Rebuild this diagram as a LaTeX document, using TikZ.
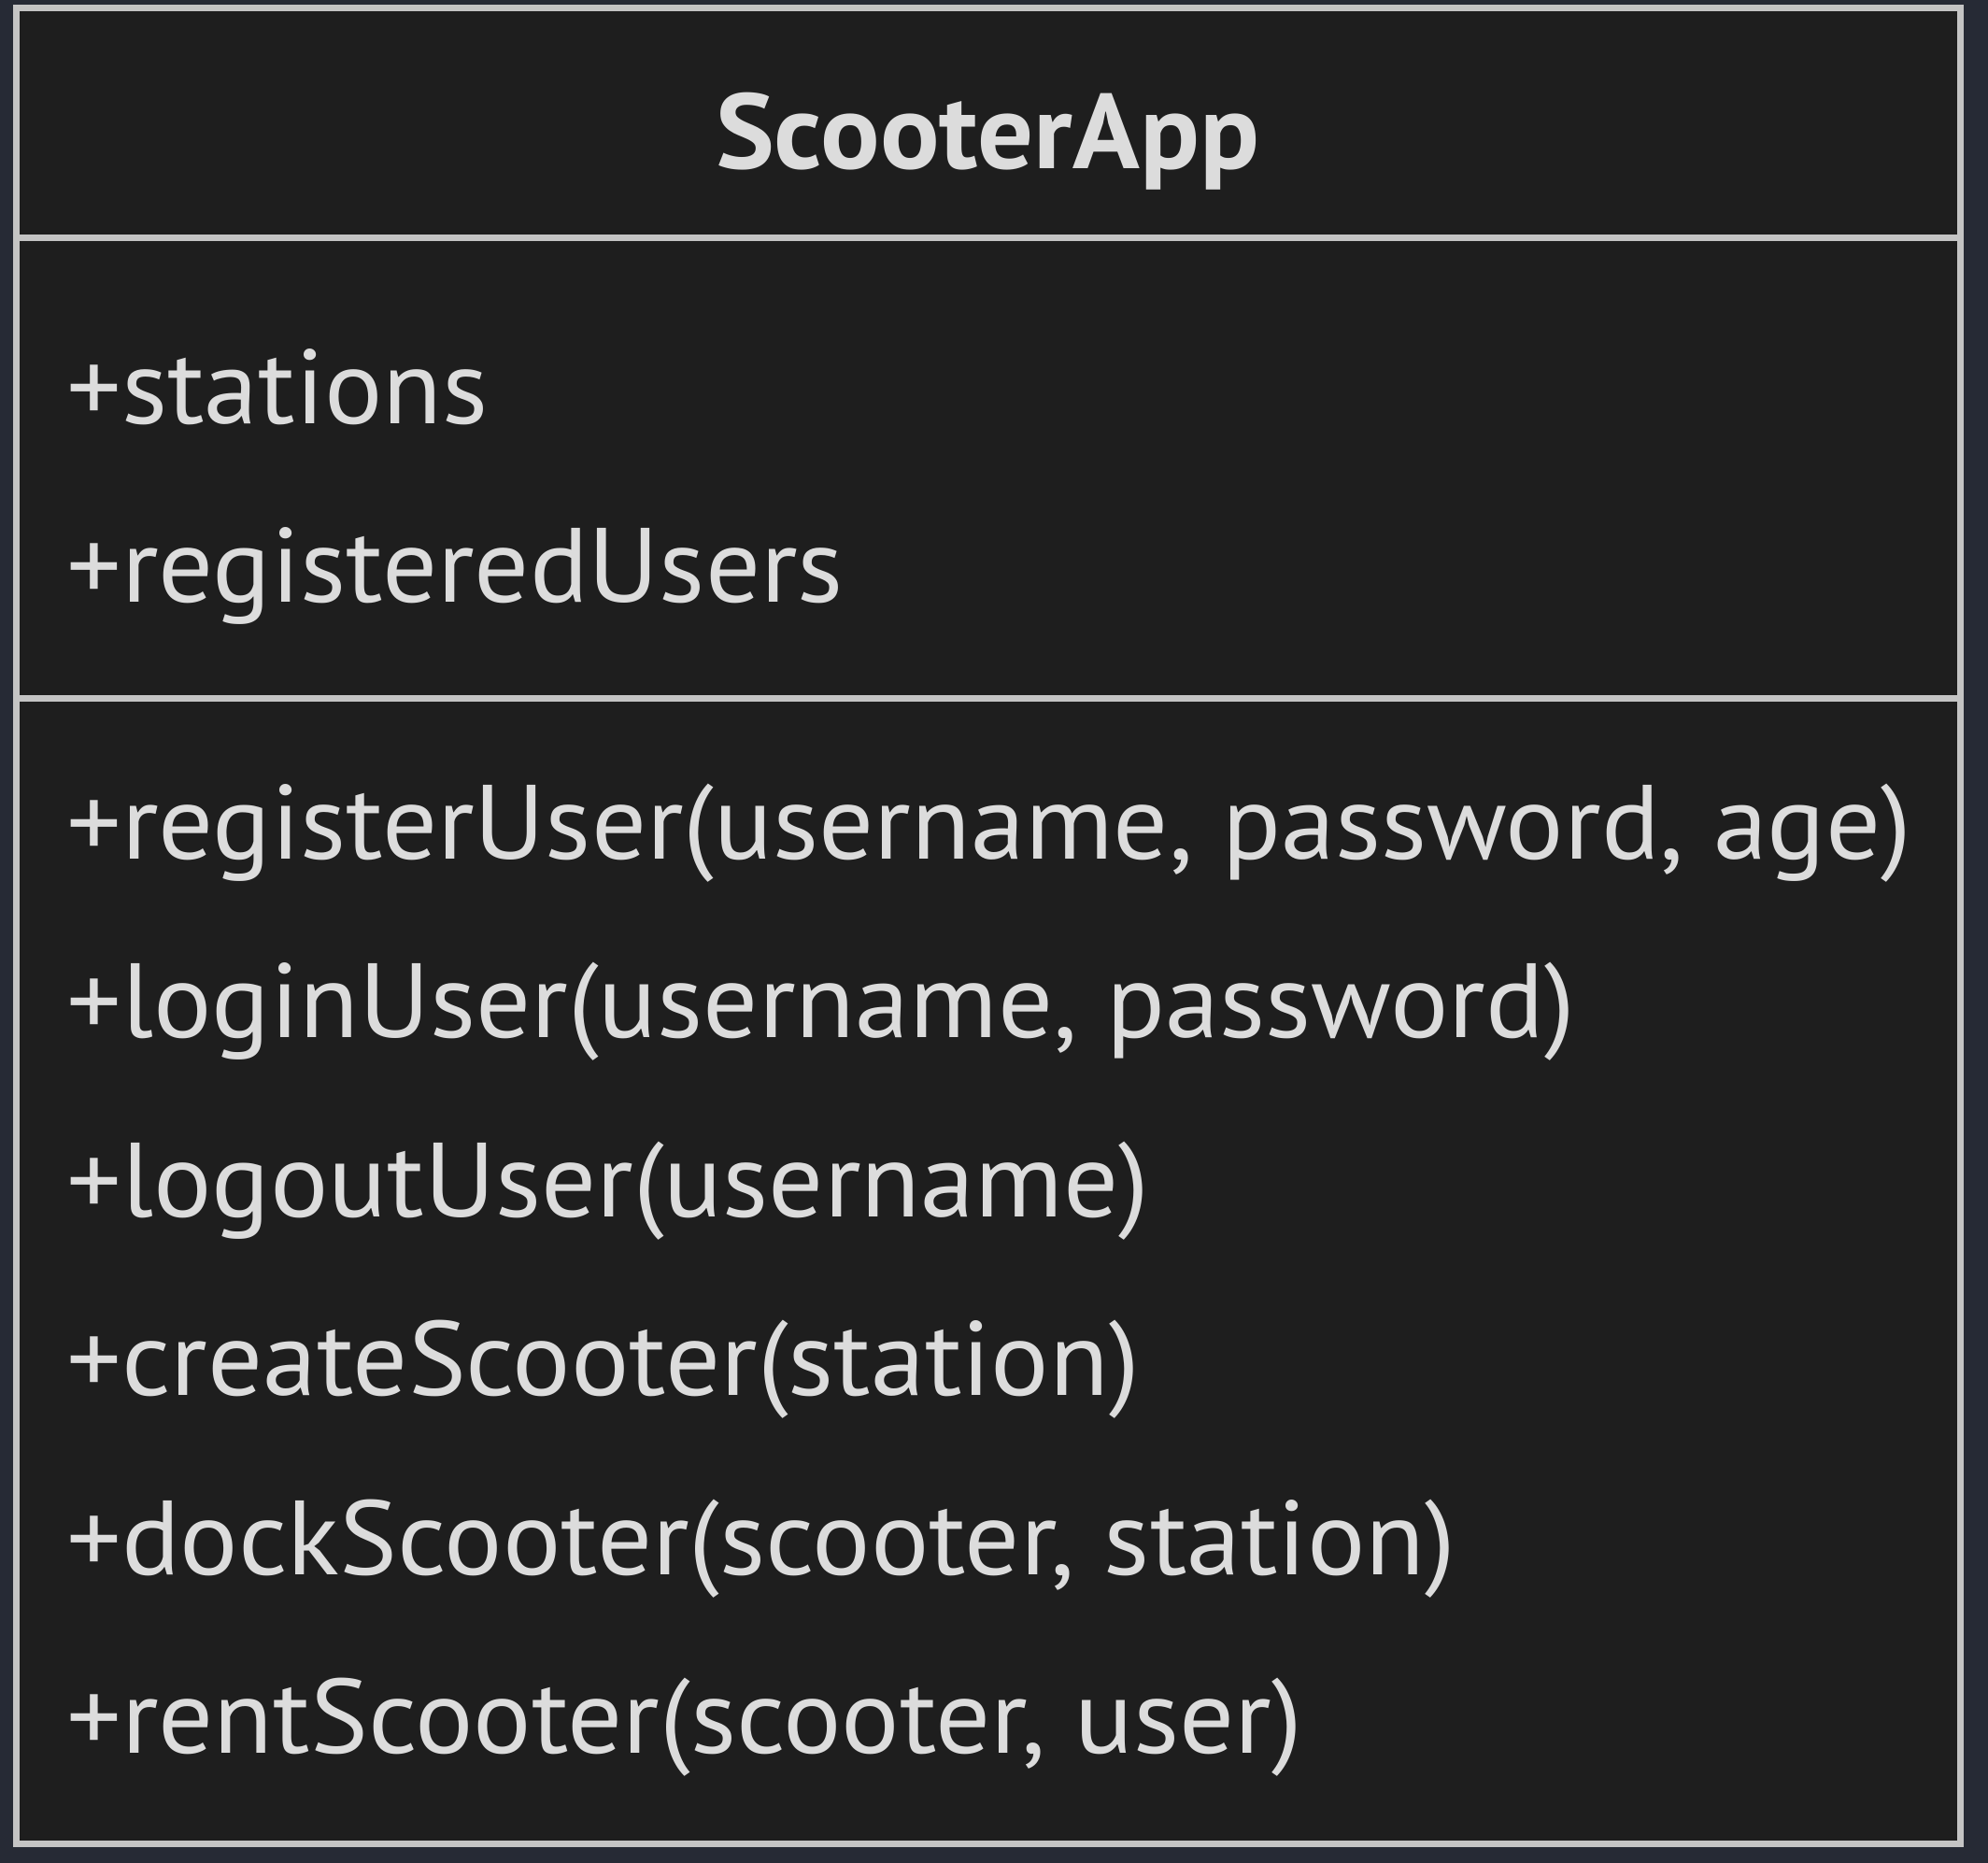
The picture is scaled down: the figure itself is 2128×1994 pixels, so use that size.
\documentclass[tikz,border=0pt]{standalone}
\usepackage{fontspec}
\setmainfont{PT Sans}[FakeStretch=1.032, BoldFeatures={FakeStretch=1.04}]
\definecolor{pagebg}{HTML}{262A35}
\definecolor{boxfill}{HTML}{1E1E1E}
\definecolor{boxline}{HTML}{C4C4C4}
\definecolor{txt}{HTML}{DCDCDC}
\tikzset{
  member/.style={anchor=base west, inner sep=0pt, text=txt, font=\fontsize{113}{113}\selectfont},
  titletext/.style={anchor=base, inner sep=0pt, text=txt, font=\fontsize{114}{114}\selectfont\bfseries},
  frame/.style={draw=boxline, line width=7pt, fill=boxfill},
  sep/.style={draw=boxline, line width=7pt}
}
\begin{document}
\begin{tikzpicture}[x=1pt,y=-1pt]
\fill[pagebg] (0,0) rectangle (2128,1994);
\useasboundingbox (0,0) rectangle (2128,1994);
\coordinate (tl) at (17.5,8.7);
\coordinate (br) at (2098.3,1973);
\draw[frame] (tl) rectangle (br);
\coordinate (s1l) at (17.5,254.5);
\coordinate (s1r) at (2098.3,254.5);
\coordinate (s2l) at (17.5,747.5);
\coordinate (s2r) at (2098.3,747.5);
\draw[sep] (s1l) -- (s1r);
\draw[sep] (s2l) -- (s2r);
\node[titletext] (title) at (1057,180) {ScooterApp};
\node[member] (a1) at (71,453) {+stations};
\node[member] (a2) at (71,644.5) {+registeredUsers};
\node[member] (m1) at (71,919) {+registerUser(username, password, age)};
\node[member] (m2) at (71,1110.5) {+loginUser(username, password)};
\node[member] (m3) at (71,1302) {+logoutUser(username)};
\node[member] (m4) at (71,1493.5) {+createScooter(station)};
\node[member] (m5) at (71,1685) {+dockScooter(scooter, station)};
\node[member] (m6) at (71,1876.5) {+rentScooter(scooter, user)};
\end{tikzpicture}
\end{document}
